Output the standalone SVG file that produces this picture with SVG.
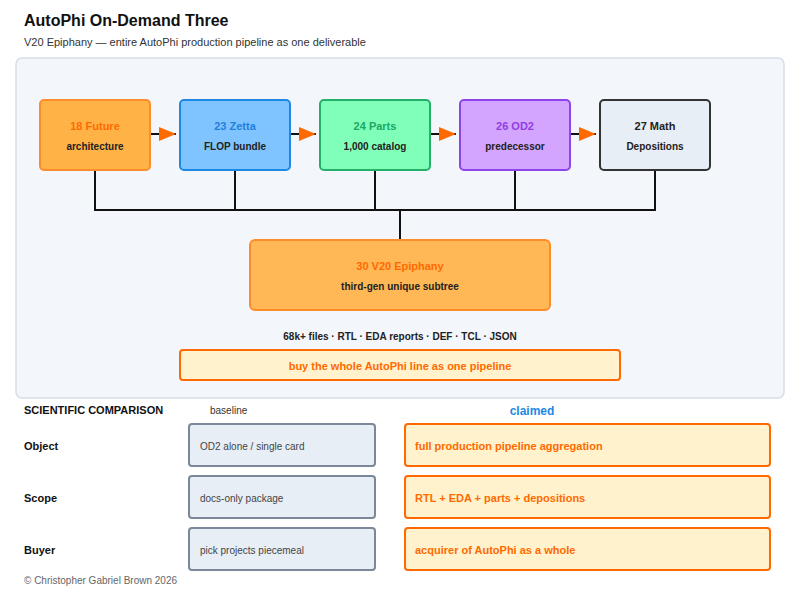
<svg xmlns="http://www.w3.org/2000/svg" width="800" height="600" viewBox="0 0 800 600">
<defs>
<marker id="arr" viewBox="0 0 10 10" refX="10" refY="5" markerWidth="17" markerHeight="14" markerUnits="userSpaceOnUse" orient="auto" preserveAspectRatio="none">
<path d="M0,0 L10,5 L0,10 z" fill="#ff6a00"/>
</marker>
<style>
text{font-family:"Liberation Sans",Arial,sans-serif}
.t{font-size:11px;font-weight:bold;text-anchor:middle}
.s{font-size:10px;font-weight:bold;text-anchor:middle;fill:#222}
.conn{stroke:#111;stroke-width:2;fill:none}
.base{fill:#e8eef6;stroke:#7a8899;stroke-width:2}
.clm{fill:#fff2cc;stroke:#ff6a00;stroke-width:2}
.bt{font-size:10px;fill:#444}
.ct{font-size:11px;font-weight:bold;fill:#ff6a00}
.rl{font-size:11px;font-weight:bold;fill:#111}
</style>
</defs>
<rect width="800" height="600" fill="#ffffff"/>
<text x="24" y="26" font-size="16" font-weight="bold" fill="#111">AutoPhi On-Demand Three</text>
<text x="24" y="46" font-size="11" fill="#333">V20 Epiphany — entire AutoPhi production pipeline as one deliverable</text>
<rect x="16" y="58" width="768" height="340" rx="6" fill="#f3f6fa" stroke="#d8dee8" stroke-width="1.5"/>
<g id="connectors">
<line class="conn" x1="150" y1="134" x2="176" y2="134" marker-end="url(#arr)"/>
<line class="conn" x1="290" y1="134" x2="316" y2="134" marker-end="url(#arr)"/>
<line class="conn" x1="430" y1="134" x2="456" y2="134" marker-end="url(#arr)"/>
<line class="conn" x1="570" y1="134" x2="596" y2="134" marker-end="url(#arr)"/>
<path class="conn" d="M95,170 V210 M235,170 V210 M375,170 V210 M515,170 V210 M655,170 V210 M94,210 H656 M400,210 V240"/>
</g>
<g id="n18">
<rect x="40" y="100" width="110" height="70" rx="4" fill="#ffb347" stroke="#ff8c2a" stroke-width="2"/>
<text class="t" x="95" y="130" fill="#ff6a00">18 Future</text>
<text class="s" x="95" y="150">architecture</text>
</g>
<g id="n23">
<rect x="180" y="100" width="110" height="70" rx="4" fill="#80c4ff" stroke="#1e88e5" stroke-width="2"/>
<text class="t" x="235" y="130" fill="#1e7fe0">23 Zetta</text>
<text class="s" x="235" y="150">FLOP bundle</text>
</g>
<g id="n24">
<rect x="320" y="100" width="110" height="70" rx="4" fill="#80ffb8" stroke="#22b06a" stroke-width="2"/>
<text class="t" x="375" y="130" fill="#1aa866">24 Parts</text>
<text class="s" x="375" y="150">1,000 catalog</text>
</g>
<g id="n26">
<rect x="460" y="100" width="110" height="70" rx="4" fill="#d4a5ff" stroke="#8e44e8" stroke-width="2"/>
<text class="t" x="515" y="130" fill="#8e3ee0">26 OD2</text>
<text class="s" x="515" y="150">predecessor</text>
</g>
<g id="n27">
<rect x="600" y="100" width="110" height="70" rx="4" fill="#e8eef6" stroke="#333" stroke-width="2"/>
<text class="t" x="655" y="130" fill="#222">27 Math</text>
<text class="s" x="655" y="150">Depositions</text>
</g>
<g id="n30">
<rect x="250" y="240" width="300" height="70" rx="5" fill="#ffb855" stroke="#ff8c2a" stroke-width="2"/>
<text class="t" x="400" y="270" fill="#ff6a00">30 V20 Epiphany</text>
<text class="s" x="400" y="290">third-gen unique subtree</text>
</g>
<g id="files">
<text class="s" x="400" y="340">68k+ files · RTL · EDA reports · DEF · TCL · JSON</text>
</g>
<g id="banner">
<rect x="180" y="350" width="440" height="30" rx="3" fill="#fff2cc" stroke="#ff6a00" stroke-width="2"/>
<text class="t" x="400" y="370" fill="#ff6a00">buy the whole AutoPhi line as one pipeline</text>
</g>
<g id="comparison">
<text x="24" y="414" font-size="11" font-weight="bold" fill="#111">SCIENTIFIC COMPARISON</text>
<text x="210" y="414" font-size="10" fill="#333">baseline</text>
<text x="532" y="415" font-size="12" font-weight="bold" fill="#1e88e5" text-anchor="middle">claimed</text>
<text class="rl" x="24" y="450">Object</text>
<text class="rl" x="24" y="502">Scope</text>
<text class="rl" x="24" y="554">Buyer</text>
<rect class="base" x="189" y="424" width="186" height="42" rx="3"/>
<text class="bt" x="200" y="450">OD2 alone / single card</text>
<rect class="base" x="189" y="476" width="186" height="42" rx="3"/>
<text class="bt" x="200" y="502">docs-only package</text>
<rect class="base" x="189" y="528" width="186" height="42" rx="3"/>
<text class="bt" x="200" y="554">pick projects piecemeal</text>
<rect class="clm" x="405" y="424" width="365" height="42" rx="3"/>
<text class="ct" x="415" y="450">full production pipeline aggregation</text>
<rect class="clm" x="405" y="476" width="365" height="42" rx="3"/>
<text class="ct" x="415" y="502">RTL + EDA + parts + depositions</text>
<rect class="clm" x="405" y="528" width="365" height="42" rx="3"/>
<text class="ct" x="415" y="554">acquirer of AutoPhi as a whole</text>
</g>
<text x="24" y="584" font-size="10" fill="#666">© Christopher Gabriel Brown 2026</text>
</svg>
